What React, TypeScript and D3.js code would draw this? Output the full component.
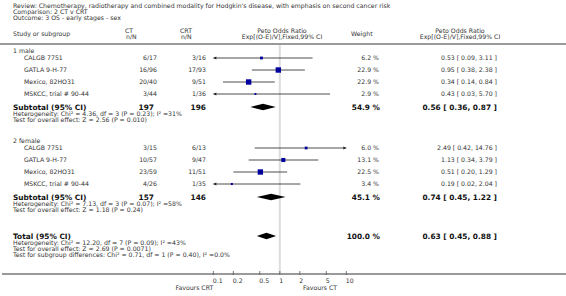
import React from "react";
import * as d3 from "d3";

const titleLines = [
  "Review:  Chemotherapy, radiotherapy and combined modality for Hodgkin's disease, with emphasis on second cancer risk",
  "Comparison:  2 CT v CRT",
  "Outcome:  3 OS - early stages - sex",
];

const groupNames = ["1 male", "2 female"];
const studyNames = [
  ["CALGB 7751", "GATLA 9-H-77", "Mexico, 82HO31", "MSKCC, trial # 90-44"],
  ["CALGB 7751", "GATLA 9-H-77", "Mexico, 82HO31", "MSKCC, trial # 90-44"],
];
const ctText = [
  ["6/17", "16/96", "20/40", "3/44"],
  ["3/15", "10/57", "23/59", "4/26"],
];
const crtText = [
  ["3/16", "17/93", "9/51", "1/36"],
  ["6/13", "9/47", "11/51", "1/35"],
];
const weights = [
  [6.2, 22.9, 22.9, 2.9],
  [6.0, 13.1, 22.5, 3.4],
];
const estimates = [
  [0.53, 0.95, 0.34, 0.43],
  [2.49, 1.13, 0.51, 0.19],
];
const lowers = [
  [0.09, 0.38, 0.14, 0.03],
  [0.42, 0.34, 0.2, 0.02],
];
const uppers = [
  [3.11, 2.38, 0.84, 5.7],
  [14.76, 3.79, 1.29, 2.04],
];
const subCT = ["197", "157"];
const subCRT = ["196", "146"];
const subWeight = [54.9, 45.1];
const subEst = [0.56, 0.74];
const subLo = [0.36, 0.45];
const subHi = [0.87, 1.22];
const subHet = [
  "Heterogeneity: Chi² = 4.36, df = 3 (P = 0.23); I² =31%",
  "Heterogeneity: Chi² = 7.13, df = 3 (P = 0.07); I² =58%",
];
const subTest = [
  "Test for overall effect: Z = 2.56 (P = 0.010)",
  "Test for overall effect: Z = 1.18 (P = 0.24)",
];
const totalEst = 0.63;
const totalLo = 0.45;
const totalHi = 0.88;
const totalWeight = 100.0;
const totalNotes = [
  "Heterogeneity: Chi² = 12.20, df = 7 (P = 0.09); I² =43%",
  "Test for overall effect: Z = 2.69 (P = 0.0071)",
  "Test for subgroup differences: Chi² = 0.71, df = 1 (P = 0.40), I² =0.0%",
];
const tickValues = [0.1, 0.2, 0.5, 1, 2, 5, 10];
const tickLabels = ["0.1", "0.2", "0.5", "1", "2", "5", "10"];

const FONT = "DejaVu Sans, Verdana, sans-serif";
const TXT = "#333";
const SQ = "#00009c";

const fmt2 = (v: number) => v.toFixed(2);
const ciText = (e: number, l: number, h: number) => `${fmt2(e)} [ ${fmt2(l)}, ${fmt2(h)} ]`;

export default function App() {
  const W = 566;
  const H = 296;
  const x = d3.scaleLog().domain([0.1, 10]).range([213.3, 346.3]);
  const [xmin] = x.range();

  const groupLabelY = [51, 141];
  const studyY = [
    [58, 70, 82, 94],
    [148, 160, 172, 184],
  ];
  const subY = [107, 197];
  const totalY = 236;
  const headerLineY = 44;
  const axisY = 274;

  const fs = 6.2;
  const fsB = 7.4;

  const T = (props: any) => (
    <text fontFamily={FONT} fontSize={fs} fill={TXT} dy="0.35em" {...props} />
  );
  const TB = (props: any) => (
    <text fontFamily={FONT} fontSize={fsB} fontWeight="bold" fill="#111" dy="0.35em" {...props} />
  );

  const diamond = (e: number, l: number, h: number, y: number) => {
    const hh = 3.2;
    return (
      <path
        d={`M${x(l)},${y} L${x(e)},${y - hh} L${x(h)},${y} L${x(e)},${y + hh} Z`}
        fill="#000"
      />
    );
  };

  const ciLine = (l: number, h: number, y: number, key: string) => {
    const cl = Math.max(l, 0.1);
    const ch = Math.min(h, 10);
    const x1 = x(cl);
    const x2 = x(ch);
    return (
      <g key={key}>
        <line x1={x1} x2={x2} y1={y} y2={y} stroke="#222" strokeWidth={0.8} />
        {l < 0.1 && <path d={`M${x1},${y} L${x1 + 3},${y - 1.5} L${x1 + 3},${y + 1.5} Z`} fill="#222" />}
        {h > 10 && <path d={`M${x2},${y} L${x2 - 3},${y - 1.5} L${x2 - 3},${y + 1.5} Z`} fill="#222" />}
      </g>
    );
  };

  const sqSize = (w: number) => Math.max(1, Math.sqrt(w / 22.9) * 5.4);

  return (
    <svg width={W} height={H} style={{ position: "absolute", left: 0, top: 0, background: "#fff" }}>
      {titleLines.map((t, i) => (
        <T key={i} x={13} y={5.5 + i * 6}>{t}</T>
      ))}

      {/* header */}
      <T x={13} y={34}>Study or subgroup</T>
      <T x={125} y={31}>CT</T>
      <T x={126} y={37}>n/N</T>
      <T x={180} y={31}>CRT</T>
      <T x={181} y={37}>n/N</T>
      <T x={282} y={31} textAnchor="middle">Peto Odds Ratio</T>
      <T x={282} y={37} textAnchor="middle">Exp[(O-E)/V],Fixed,99% CI</T>
      <T x={351} y={34}>Weight</T>
      <T x={460} y={31} textAnchor="middle">Peto Odds Ratio</T>
      <T x={460} y={37} textAnchor="middle">Exp[(O-E)/V],Fixed,99% CI</T>
      <line x1={0} x2={W} y1={headerLineY} y2={headerLineY} stroke="#9a9a9a" strokeWidth={2} />

      {/* null line */}
      <line x1={x(1)} x2={x(1)} y1={headerLineY + 1} y2={axisY - 1} stroke="#dcdcdc" strokeWidth={2} />

      {groupNames.map((g, gi) => (
        <g key={g}>
          <T x={13} y={groupLabelY[gi]}>{g}</T>
          {studyNames[gi].map((s, si) => {
            const y = studyY[gi][si];
            const sz = sqSize(weights[gi][si]);
            return (
              <g key={s}>
                <T x={24} y={y}>{s}</T>
                <T x={157} y={y} textAnchor="end">{ctText[gi][si]}</T>
                <T x={206} y={y} textAnchor="end">{crtText[gi][si]}</T>
                {ciLine(lowers[gi][si], uppers[gi][si], y, `ci${gi}${si}`)}
                <rect x={x(estimates[gi][si]) - sz / 2} y={y - sz / 2} width={sz} height={sz} fill={SQ} />
                <T x={379} y={y} textAnchor="end">{weights[gi][si].toFixed(1)} %</T>
                <T x={497} y={y} textAnchor="end">{ciText(estimates[gi][si], lowers[gi][si], uppers[gi][si])}</T>
              </g>
            );
          })}
          <TB x={13} y={subY[gi]}>Subtotal (95% CI)</TB>
          <TB x={154} y={subY[gi]} textAnchor="end">{subCT[gi]}</TB>
          <TB x={206} y={subY[gi]} textAnchor="end">{subCRT[gi]}</TB>
          {diamond(subEst[gi], subLo[gi], subHi[gi], subY[gi])}
          <TB x={380} y={subY[gi]} textAnchor="end">{subWeight[gi].toFixed(1)} %</TB>
          <TB x={497} y={subY[gi]} textAnchor="end">{ciText(subEst[gi], subLo[gi], subHi[gi])}</TB>
          <T x={13} y={subY[gi] + 7}>{subHet[gi]}</T>
          <T x={13} y={subY[gi] + 13}>{subTest[gi]}</T>
        </g>
      ))}

      <TB x={13} y={totalY}>Total (95% CI)</TB>
      {diamond(totalEst, totalLo, totalHi, totalY)}
      <TB x={380} y={totalY} textAnchor="end">{totalWeight.toFixed(1)} %</TB>
      <TB x={497} y={totalY} textAnchor="end">{ciText(totalEst, totalLo, totalHi)}</TB>
      {totalNotes.map((t, i) => (
        <T key={i} x={13} y={totalY + 7 + i * 6}>{t}</T>
      ))}

      {/* axis */}
      <line x1={2} x2={W} y1={axisY} y2={axisY} stroke="#9a9a9a" strokeWidth={2} />
      {tickValues.map((v, i) => (
        <g key={v}>
          <line x1={x(v)} x2={x(v)} y1={axisY - 3} y2={axisY + 1} stroke="#555" strokeWidth={0.8} />
          <T x={x(v) - 0.5} y={axisY + 6.5}>{tickLabels[i]}</T>
        </g>
      ))}
      <T x={xmin} y={axisY + 14} textAnchor="end">Favours CRT</T>
      <T x={303} y={axisY + 14}>Favours CT</T>
    </svg>
  );
}
